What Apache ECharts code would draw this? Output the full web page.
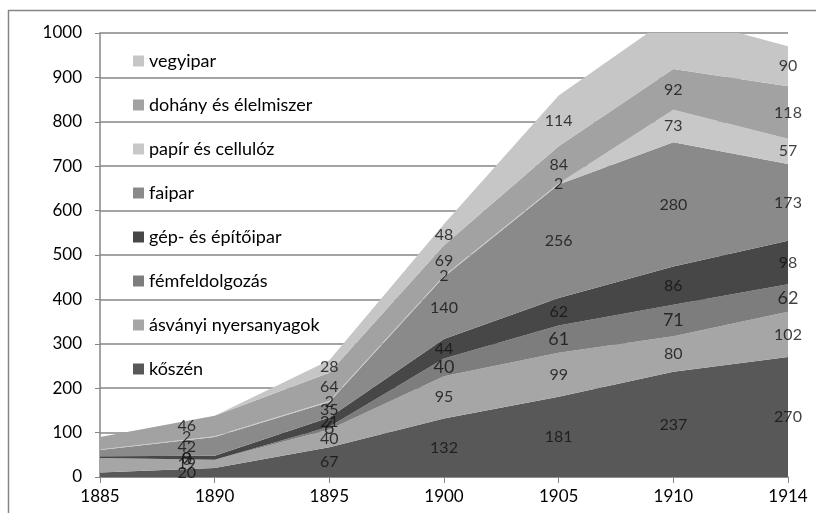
<!DOCTYPE html>
<html><head><meta charset="utf-8">
<script src="https://cdn.jsdelivr.net/npm/echarts@6/dist/echarts.min.js"></script>
<style>html,body{margin:0;padding:0;background:#fff}#c{width:816px;height:513px}</style>
</head><body><div id="c"></div>
<script>
const years = ['1885','1890','1895','1900','1905','1910','1914'];
const koszen   = [10, 20, 67, 132, 181, 237, 270];
const asvanyi  = [33, 19, 40, 95, 99, 80, 102];
const fem      = [0, 0, 6, 40, 61, 71, 62];
const gep      = [4, 9, 21, 44, 62, 86, 98];
const faipar   = [14, 42, 35, 140, 256, 280, 173];
const papir    = [1, 2, 2, 2, 2, 73, 57];
const dohany   = [28, 46, 64, 69, 84, 92, 118];
const vegyipar = [0, 0, 28, 48, 114, 121, 90];
const yTicks = [0,100,200,300,400,500,600,700,800,900,1000];

const names = ['kőszén','ásványi nyersanyagok','fémfeldolgozás','gép- és építőipar','faipar','papír és cellulóz','dohány és élelmiszer','vegyipar'];
const values = [koszen, asvanyi, fem, gep, faipar, papir, dohany, vegyipar];
const colors = ['#585858','#a6a6a6','#7d7d7d','#474747','#8a8a8a','#c8c8c8','#a2a2a2','#c6c6c6'];
// labels not shown in the reference: all of 1885, vegyipar 1890 and vegyipar 1910 (above axis max)
const hidden = {7: [1, 5]};

const series = [];
values.forEach((arr, i) => {
  series.push({
    name: names[i], type: 'line', stack: 'total', data: arr,
    symbol: 'none', lineStyle: {width: 0}, areaStyle: {color: colors[i], opacity: 1},
    itemStyle: {color: colors[i]}, z: 2
  });
});
values.forEach((arr, i) => {
  const pts = [];
  arr.forEach((v, j) => {
    if (j === 0) return;
    if (hidden[i] && hidden[i].includes(j)) return;
    let base = 0;
    for (let k = 0; k < i; k++) base += values[k][j];
    pts.push({value: [j, base + v / 2, v], label: {offset: j === 1 ? [-28, 0] : [0, 0]}});
  });
  series.push({
    type: 'scatter', data: pts, symbolSize: 0, silent: true, z: 5,
    label: {show: true, position: 'inside', formatter: p => p.value[2],
      color: '#111', fontFamily: 'Lato', fontSize: i === 2 ? 18 : 16}
  });
});

const chart = echarts.init(document.getElementById('c'));
chart.setOption({
  animation: false,
  backgroundColor: '#fff',
  grid: {left: 100, right: 28, top: 33, bottom: 36},
  legend: {
    data: names.slice().reverse(), orient: 'vertical', left: 128, top: 46,
    itemWidth: 11, itemHeight: 11, itemGap: 24, icon: 'rect',
    textStyle: {fontFamily: 'Lato', fontSize: 18, color: '#000', lineHeight: 20}
  },
  xAxis: {
    type: 'category', data: years, boundaryGap: false,
    axisLine: {lineStyle: {color: '#868686', width: 1.5}},
    axisTick: {show: true, length: 6, lineStyle: {color: '#868686'}},
    axisLabel: {fontFamily: 'Lato', fontSize: 17, color: '#000', margin: 11}
  },
  yAxis: {
    type: 'value', min: yTicks[0], max: yTicks[yTicks.length - 1], interval: 100,
    axisLine: {show: true, lineStyle: {color: '#868686', width: 1.5}},
    axisTick: {show: true, length: 5, lineStyle: {color: '#868686'}},
    axisLabel: {fontFamily: 'Lato', fontSize: 17, color: '#000', margin: 18, formatter: v => String(v)},
    splitLine: {lineStyle: {color: '#868686', width: 1.5}}
  },
  graphic: [
    {type: 'line', shape: {x1: 8.5, y1: 10, x2: 8.5, y2: 513}, style: {stroke: '#868686', lineWidth: 1.5}},
    {type: 'line', shape: {x1: 8, y1: 10.5, x2: 816, y2: 10.5}, style: {stroke: '#868686', lineWidth: 1.5}}
  ],
  series: series
});
</script></body></html>
